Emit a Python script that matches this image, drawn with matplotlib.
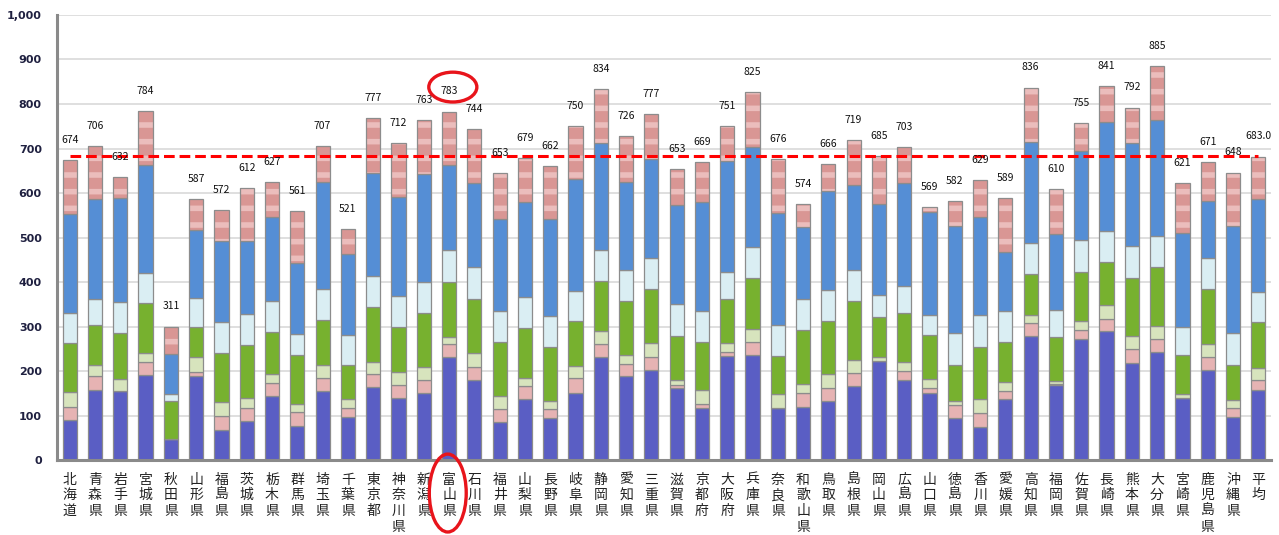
import matplotlib
matplotlib.use("Agg")
import matplotlib.pyplot as plt
import numpy as np
from matplotlib.patches import Ellipse

plt.rcParams["font.family"] = ["Noto Sans CJK JP", "DejaVu Sans"]
plt.rcParams["hatch.linewidth"] = 4.0

prefs = ["北海道", "青森県", "岩手県", "宮城県", "秋田県", "山形県", "福島県", "茨城県",
         "栃木県", "群馬県", "埼玉県", "千葉県", "東京都", "神奈川県", "新潟県", "富山県",
         "石川県", "福井県", "山梨県", "長野県", "岐阜県", "静岡県", "愛知県", "三重県",
         "滋賀県", "京都府", "大阪府", "兵庫県", "奈良県", "和歌山県", "鳥取県", "島根県",
         "岡山県", "広島県", "山口県", "徳島県", "香川県", "愛媛県", "高知県", "福岡県",
         "佐賀県", "長崎県", "熊本県", "大分県", "宮崎県", "鹿児島県", "沖縄県", "平均"]

# stacked segments, bottom to top
seg_navy = [90, 157, 155, 191, 47, 189, 67, 88, 145, 77, 155, 97, 165, 140, 150, 231,
            181, 86, 137, 95, 151, 231, 189, 202, 161, 118, 234, 237, 116, 120, 133, 166,
            223, 181, 151, 95, 75, 137, 279, 169, 273, 290, 219, 242, 139, 202, 96, 157]
seg_pink = [30, 32, 0, 30, 0, 9, 33, 30, 29, 30, 29, 19, 28, 29, 30, 29,
            29, 29, 29, 19, 33, 30, 27, 30, 8, 9, 9, 29, 0, 30, 30, 30,
            0, 19, 10, 29, 31, 19, 28, 2, 19, 27, 30, 30, 0, 30, 20, 24]
seg_ltgreen = [32, 24, 28, 20, 0, 33, 30, 21, 19, 20, 29, 21, 28, 30, 30, 17,
               30, 29, 19, 19, 28, 29, 20, 32, 11, 30, 19, 28, 32, 20, 30, 30,
               8, 21, 21, 9, 31, 19, 19, 7, 20, 31, 30, 30, 9, 29, 20, 25]
seg_green = [110, 90, 102, 111, 86, 67, 110, 119, 95, 110, 102, 76, 124, 101, 121, 124,
             121, 122, 111, 122, 101, 112, 122, 120, 99, 109, 101, 114, 86, 122, 120, 131,
             91, 110, 100, 80, 118, 91, 93, 99, 111, 96, 131, 132, 89, 123, 77, 105]
seg_ltblue = [69, 60, 71, 69, 15, 67, 71, 70, 70, 46, 69, 69, 69, 69, 70, 71,
              72, 70, 71, 69, 68, 70, 70, 69, 72, 70, 59, 70, 69, 70, 69, 70,
              50, 60, 45, 72, 71, 70, 69, 60, 71, 71, 71, 69, 61, 69, 73, 67]
seg_blue = [222, 223, 232, 243, 90, 152, 181, 164, 189, 159, 241, 182, 232, 223, 242, 191,
            190, 206, 212, 218, 250, 241, 196, 223, 222, 243, 250, 226, 253, 162, 223, 192,
            203, 232, 231, 241, 221, 132, 227, 172, 201, 245, 232, 261, 213, 128, 241, 209]
seg_top = [121, 120, 47, 121, 62, 70, 70, 120, 78, 118, 81, 55, 122, 120, 121, 120,
           121, 102, 100, 119, 120, 121, 103, 102, 80, 90, 79, 122, 120, 51, 60, 100,
           108, 81, 11, 56, 82, 120, 122, 100, 62, 81, 79, 121, 111, 89, 119, 95]

total_labels = ["674", "706", "632", "784", "311", "587", "572", "612", "627", "561",
                "707", "521", "777", "712", "763", "783", "744", "653", "679", "662",
                "750", "834", "726", "777", "653", "669", "751", "825", "676", "574",
                "666", "719", "685", "703", "569", "582", "629", "589", "836", "610",
                "755", "841", "792", "885", "621", "671", "648", "683.0"]
average = 683.0
highlight = "富山県"

x = np.arange(len(prefs))
width = 0.56
edge = "#8c8c8c"

fig = plt.figure(figsize=(12.79, 5.35), dpi=100)
ax = fig.add_axes([0.0446, 0.140, 0.9491, 0.832])

segments = [
    (seg_navy, "#5A5EC4"),
    (seg_pink, "#E6B3B3"),
    (seg_ltgreen, "#D7E4BD"),
    (seg_green, "#77B12F"),
    (seg_ltblue, "#DAEEF3"),
    (seg_blue, "#558ED5"),
]
bottom = np.zeros(len(prefs))
for vals, col in segments:
    vals = np.array(vals, dtype=float)
    ax.bar(x, vals, width, bottom=bottom, color=col, edgecolor=edge, linewidth=0.9, zorder=3)
    bottom += vals

top_vals = np.array(seg_top, dtype=float)
ax.bar(x, top_vals, width, bottom=bottom, color="#D99694", edgecolor="#EBBDBC",
       linewidth=0, hatch="-", zorder=3)
ax.bar(x, top_vals, width, bottom=bottom, fill=False, edgecolor=edge, linewidth=0.9, zorder=4)
bottom += top_vals

for xi, top, lab in zip(x, bottom, total_labels):
    ax.annotate(lab, (xi, top), xytext=(0, 14.5), textcoords="offset points",
                ha="center", va="center", fontsize=7.5, color="#111111", zorder=6)

ax.plot([x[0], x[-1]], [average, average], color="#FF0000", linewidth=2.2,
        dashes=(3.5, 1.6), zorder=5)

# red circles around Toyama
hi = prefs.index(highlight)
ax.add_patch(Ellipse((hi + 0.15, 838), 1.9, 67, fill=False, edgecolor="#E8141B",
                     linewidth=2.4, zorder=7))
ax.add_patch(Ellipse((hi - 0.05, -74), 1.46, 175, fill=False, edgecolor="#E8141B",
                     linewidth=2.4, zorder=7, clip_on=False))

ax.set_xlim(-0.5, len(prefs) - 0.5)
ax.set_ylim(0, 1000)
ax.set_yticks(np.arange(0, 1001, 100))
ax.set_yticklabels([f"{v:,}" for v in range(0, 1001, 100)], fontsize=8,
                   fontweight="bold", color="#1F2040", family="DejaVu Sans")
ax.set_xticks(x)
ax.set_xticklabels(["\n".join(p) for p in prefs], fontsize=10, color="#222222",
                   linespacing=1.15, va="top")
ax.tick_params(axis="y", length=0, pad=11)
ax.tick_params(axis="x", length=0, pad=9)

ax.grid(axis="y", color="#D9D9D9", linewidth=1.2, zorder=0)
ax.set_axisbelow(True)
for s in ["top", "right"]:
    ax.spines[s].set_visible(False)
for s in ["left", "bottom"]:
    ax.spines[s].set_color("#8a8a8a")
    ax.spines[s].set_linewidth(2.2)
    ax.spines[s].set_zorder(5)

fig.savefig("out.png", dpi=100)
